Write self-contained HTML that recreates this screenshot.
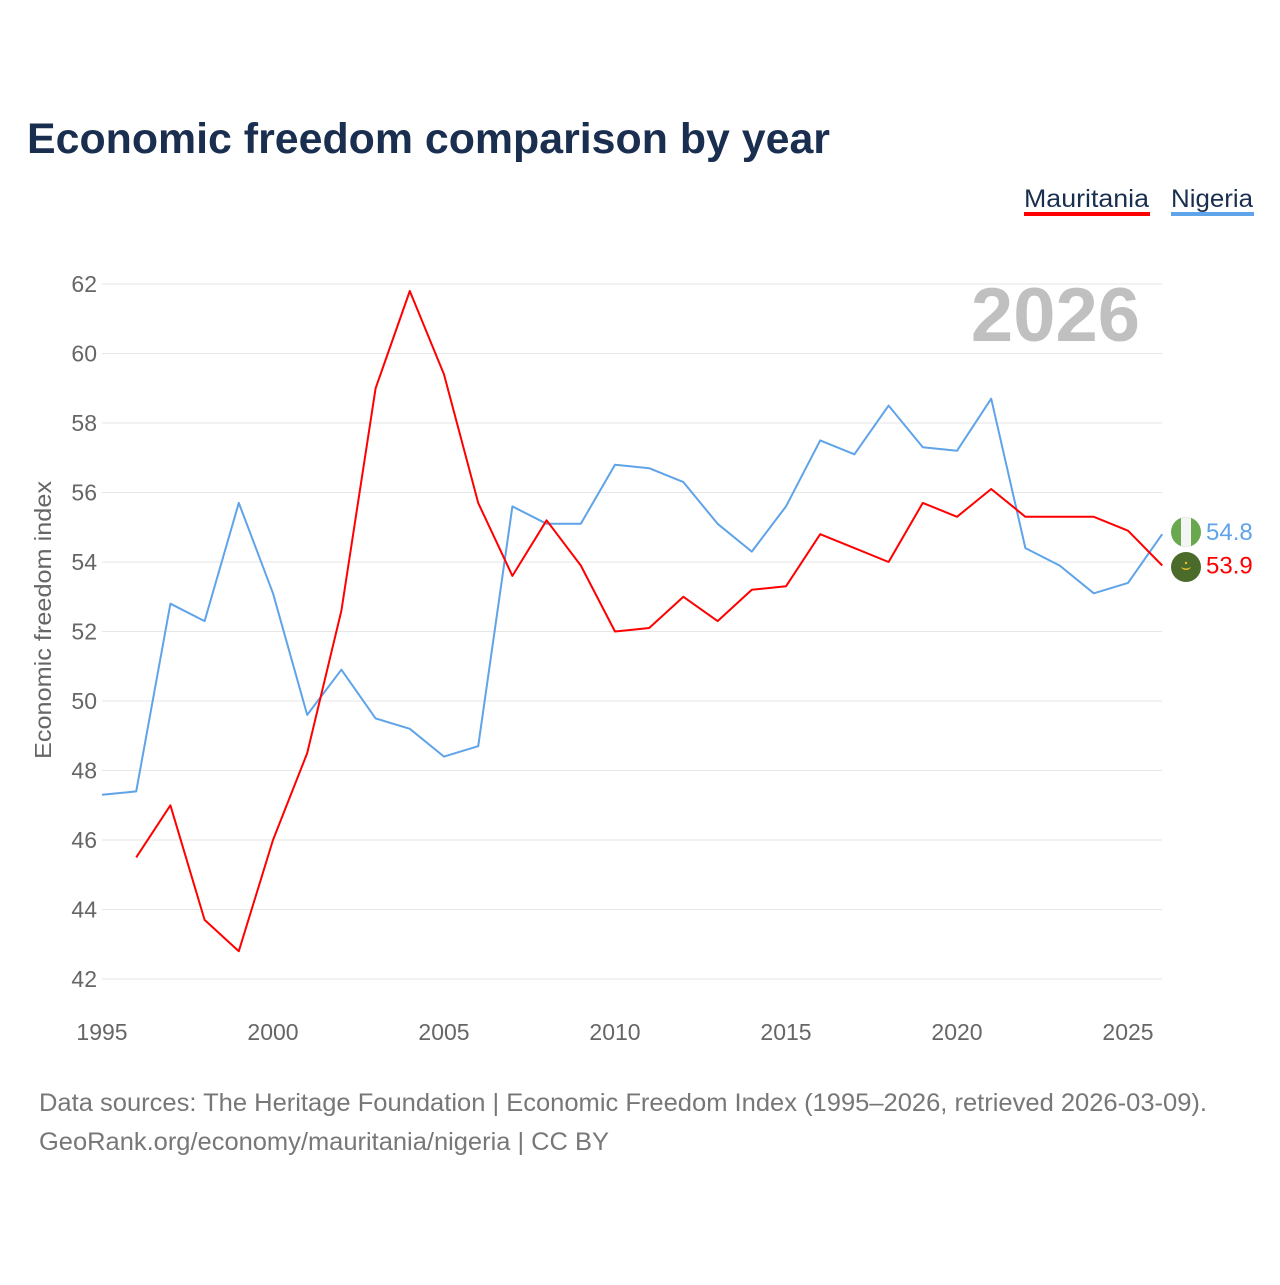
<!DOCTYPE html>
<html><head><meta charset="utf-8"><style>
body{margin:0;background:#fff;}
svg text{font-family:"Liberation Sans",sans-serif;}
</style></head><body>
<svg width="1280" height="1280" xmlns="http://www.w3.org/2000/svg" id="chart">
<text x="27" y="153" font-size="43" font-weight="bold" fill="#1a2e4f" textLength="803" lengthAdjust="spacingAndGlyphs">Economic freedom comparison by year</text>
<g>
<text x="1024" y="207" font-size="25" fill="#1a2e4f" textLength="125" lengthAdjust="spacingAndGlyphs">Mauritania</text>
<rect x="1024" y="212" width="126" height="4" fill="#ff0000"/>
<text x="1171" y="207" font-size="25" fill="#1a2e4f" textLength="82" lengthAdjust="spacingAndGlyphs">Nigeria</text>
<rect x="1171" y="212" width="83" height="4" fill="#5fa3e8"/>
</g>
<text x="1140" y="341" font-size="76" font-weight="bold" fill="#c0c0c0" text-anchor="end">2026</text>
<g id="grid"></g><g id="xt"></g><g id="lines"></g>
<text transform="translate(51,620) rotate(-90)" font-size="23" fill="#666" text-anchor="middle" textLength="278" lengthAdjust="spacingAndGlyphs">Economic freedom index</text>
<text x="39" y="1111" font-size="25" fill="#777" textLength="1168" lengthAdjust="spacingAndGlyphs">Data sources: The Heritage Foundation | Economic Freedom Index (1995–2026, retrieved 2026-03-09).</text>
<text x="39" y="1150" font-size="25" fill="#777" textLength="570" lengthAdjust="spacingAndGlyphs">GeoRank.org/economy/mauritania/nigeria | CC BY</text>
<g>
<clipPath id="c1"><circle cx="1186" cy="532" r="15"/></clipPath>
<g clip-path="url(#c1)"><rect x="1171" y="517" width="30" height="30" fill="#6aa84f"/><rect x="1181" y="517" width="10" height="30" fill="#f4f4f4"/></g>
</g>
<g>
<circle cx="1186" cy="567" r="15" fill="#4a6b2a"/>
<path d="M1181 566 a5 4 0 0 0 10 0 a5 2.5 0 0 1 -10 0z" fill="#e8c22a"/>
<circle cx="1186" cy="563" r="1.2" fill="#e8c22a"/>
</g>
</svg>
<script>
const years=[1995,1996,1997,1998,1999,2000,2001,2002,2003,2004,2005,2006,2007,2008,2009,2010,2011,2012,2013,2014,2015,2016,2017,2018,2019,2020,2021,2022,2023,2024,2025,2026];
const nigeria=[47.3,47.4,52.8,52.3,55.7,53.1,49.6,50.9,49.5,49.2,48.4,48.7,55.6,55.1,55.1,56.8,56.7,56.3,55.1,54.3,55.6,57.5,57.1,58.5,57.3,57.2,58.7,54.4,53.9,53.1,53.4,54.8];
const mauritania=[null,45.5,47.0,43.7,42.8,46.0,48.5,52.6,59.0,61.8,59.4,55.7,53.6,55.2,53.9,52.0,52.1,53.0,52.3,53.2,53.3,54.8,54.4,54.0,55.7,55.3,56.1,55.3,55.3,55.3,54.9,53.9];
const yTicks=[42,44,46,48,50,52,54,56,58,60,62];
const xTicks=[1995,2000,2005,2010,2015,2020,2025];
const NS="http://www.w3.org/2000/svg";
const X=y=>102+(y-1995)*34.2;
const Y=v=>979-(v-42)*34.75;
function mk(t,a,p){const e=document.createElementNS(NS,t);for(const k in a)e.setAttribute(k,a[k]);p.appendChild(e);return e;}
const grid=document.getElementById('grid');
yTicks.forEach(v=>{
 const l=mk('line',{x1:102,x2:1162,y1:Y(v),y2:Y(v),stroke:'#e6e6e6','stroke-width':1},grid);
 
 
 const t=mk('text',{x:97,y:Y(v)+8,'font-size':23,fill:'#666','text-anchor':'end'},grid);
 t.textContent=v;
 
 
});
const xt=document.getElementById('xt');
xTicks.forEach(v=>{
 const t=mk('text',{x:X(v),y:1040,'font-size':23,fill:'#666','text-anchor':'middle'},xt);
 t.textContent=v;
 
 
});
const lines=document.getElementById('lines');
function path(vals,col,name){
 let d='';let pen=false;
 vals.forEach((v,i)=>{if(v==null){pen=false;return;}d+=(pen?'L':'M')+X(years[i]).toFixed(1)+' '+Y(v).toFixed(1);pen=true;});
 const p=mk('path',{d:d,fill:'none',stroke:col,'stroke-width':2,'stroke-linejoin':'round'},lines);
 
 
}
path(nigeria,'#5fa3e8','nigeria-line');
path(mauritania,'#ff0000','mauritania-line');
const nl=nigeria[nigeria.length-1], ml=mauritania[mauritania.length-1];
const t1=mk('text',{x:1206,y:Y(nl)+6,'font-size':24,fill:'#5fa3e8'},lines);
t1.textContent=nl.toFixed(1);


const t2=mk('text',{x:1206,y:Y(ml)+8,'font-size':24,fill:'#ff0000'},lines);
t2.textContent=ml.toFixed(1);


</script>
</body></html>
